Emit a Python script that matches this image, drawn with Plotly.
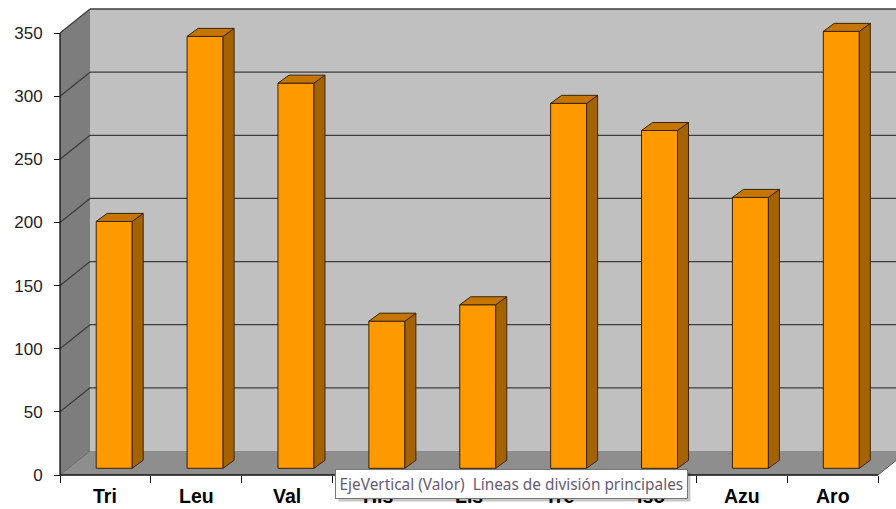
import plotly.graph_objects as go

categories = ["Tri", "Leu", "Val", "His", "Lis", "Tre", "Iso", "Azu", "Aro"]
values = [195.5, 342, 305, 116.5, 129.5, 289, 267.5, 214.5, 346]
y_ticks = [0, 50, 100, 150, 200, 250, 300, 350]
tooltip_text = "EjeVertical (Valor)  Líneas de división principales"

# ---- geometry (pixel -> data units) ----
PX_X = 818 / 9.0          # pixels per category
PX_Y = 442 / 350.0        # pixels per value unit
DEPTH_DX = 30 / PX_X      # oblique depth offset of the back wall
DEPTH_DY = 24 / PX_Y
BAR_SHIFT = 8.75 / PX_X   # bar front face sits a bit into the depth
BAR_BASE = 6.7 / PX_Y
BAR_W = 36 / PX_X
BAR_DX = 11 / PX_X        # bar depth
BAR_DY = 8 / PX_Y
YMAX = 350
NCAT = len(categories)

L, B = 50, 24
W, H = 896, 509
x_min = -(60 - L) / PX_X
x_max = (W - 60) / PX_X
y_min = -10 / PX_Y
y_max = 475 / PX_Y

fig = go.Figure()

shapes = []
# side wall
shapes.append(dict(type="path", xref="x", yref="y", layer="below",
                   path=f"M0,0 L{DEPTH_DX},{DEPTH_DY} L{DEPTH_DX},{YMAX+DEPTH_DY} L0,{YMAX} Z",
                   fillcolor="#7d7d7d", line=dict(width=0)))
# back wall
shapes.append(dict(type="rect", xref="x", yref="y", layer="below",
                   x0=DEPTH_DX, x1=NCAT + DEPTH_DX + 0.5, y0=DEPTH_DY, y1=YMAX + DEPTH_DY,
                   fillcolor="#c0c0c0", line=dict(width=0)))
# floor
shapes.append(dict(type="path", xref="x", yref="y", layer="below",
                   path=f"M0,0 L{NCAT},0 L{NCAT+DEPTH_DX},{DEPTH_DY} L{DEPTH_DX},{DEPTH_DY} Z",
                   fillcolor="#8e8e8e", line=dict(width=0)))
# gridlines on back and side walls
for t in y_ticks[1:]:
    shapes.append(dict(type="line", xref="x", yref="y", layer="below",
                       x0=DEPTH_DX, x1=NCAT + DEPTH_DX + 0.5, y0=t + DEPTH_DY, y1=t + DEPTH_DY,
                       line=dict(color="#3c3c3c", width=1.3)))
    shapes.append(dict(type="line", xref="x", yref="y", layer="below",
                       x0=0, x1=DEPTH_DX, y0=t, y1=t + DEPTH_DY,
                       line=dict(color="#3c3c3c", width=1.3)))
# floor diagonal at left
shapes.append(dict(type="line", xref="x", yref="y", layer="below",
                   x0=0, x1=DEPTH_DX, y0=0, y1=DEPTH_DY,
                   line=dict(color="#6a6a6a", width=1)))
# front axis lines
shapes.append(dict(type="line", xref="x", yref="y", layer="below",
                   x0=0, x1=0, y0=0, y1=YMAX, line=dict(color="#111", width=1.3)))
shapes.append(dict(type="line", xref="x", yref="y", layer="below",
                   x0=0, x1=NCAT, y0=0, y1=0, line=dict(color="#111", width=1.3)))
shapes.append(dict(type="line", xref="x", yref="y", layer="below",
                   x0=NCAT, x1=NCAT + DEPTH_DX, y0=0, y1=DEPTH_DY,
                   line=dict(color="#555", width=1)))

# bars (front faces)
xc = [i + 0.5 + BAR_SHIFT for i in range(NCAT)]
fig.add_trace(go.Bar(x=xc, y=values, base=[BAR_BASE] * NCAT, width=BAR_W,
                     marker=dict(color="#ff9900", line=dict(color="#3a2400", width=1)),
                     hoverinfo="skip", showlegend=False))

# side faces and top faces
sx, sy, tx, ty = [], [], [], []
for x, v in zip(xc, values):
    xl, xr = x - BAR_W / 2, x + BAR_W / 2
    top = BAR_BASE + v
    sx += [xr, xr + BAR_DX, xr + BAR_DX, xr, xr, None]
    sy += [BAR_BASE, BAR_BASE + BAR_DY, top + BAR_DY, top, BAR_BASE, None]
    tx += [xl, xl + BAR_DX, xr + BAR_DX, xr, xl, None]
    ty += [top, top + BAR_DY, top + BAR_DY, top, top, None]
fig.add_trace(go.Scatter(x=sx, y=sy, mode="lines", fill="toself", fillcolor="#a56300",
                         line=dict(color="#3a2400", width=1), hoverinfo="skip", showlegend=False))
fig.add_trace(go.Scatter(x=tx, y=ty, mode="lines", fill="toself", fillcolor="#c47600",
                         line=dict(color="#3a2400", width=1), hoverinfo="skip", showlegend=False))

annotations = []
for i, c in enumerate(categories):
    annotations.append(dict(x=i + 0.5, xref="x", y=0, yref="paper", yanchor="middle",
                            yshift=-11, text=f"<b>{c}</b>", showarrow=False,
                            font=dict(family="Liberation Sans", size=19.5, color="#000"),
                            ))
# tooltip shadow and tooltip
tip_x = (335 - L) / (W - L)
tip_y = (H - B - 469) / (H - B)
annotations.append(dict(x=tip_x, y=tip_y, xref="paper", yref="paper", xanchor="left", yanchor="top",
                        xshift=3, yshift=-3, text=tooltip_text, showarrow=False,
                        font=dict(family="Noto Sans", size=15.4, color="rgba(0,0,0,0)"),
                        bgcolor="rgba(0,0,0,0.22)", borderpad=3.5, borderwidth=1,
                        bordercolor="rgba(0,0,0,0)"))
annotations.append(dict(x=tip_x, y=tip_y, xref="paper", yref="paper", xanchor="left", yanchor="top",
                        text=tooltip_text, showarrow=False,
                        font=dict(family="Noto Sans", size=15.4, color="#665a72"),
                        bgcolor="#ffffff", borderpad=3.5, borderwidth=1, bordercolor="#767676"))

fig.update_layout(
    width=W, height=H,
    margin=dict(l=L, r=0, t=0, b=B, pad=0),
    paper_bgcolor="#ffffff", plot_bgcolor="rgba(0,0,0,0)",
    shapes=shapes, annotations=annotations,
    showlegend=False, hovermode=False,
    xaxis=dict(range=[x_min, x_max], anchor="free", position=10 / (H - B),
               tickvals=list(range(NCAT + 1)), ticktext=[""] * (NCAT + 1),
               ticks="outside", ticklen=7, tickcolor="#111", tickwidth=1.3,
               showgrid=False, zeroline=False, showline=False, fixedrange=True),
    yaxis=dict(range=[y_min, y_max], anchor="free", position=10 / (W - L),
               tickvals=y_ticks, ticks="outside", ticklen=6, tickcolor="#111", tickwidth=1.3,
               ticklabelstandoff=8,
               tickfont=dict(family="Liberation Sans", size=17, color="#222"),
               showgrid=False, zeroline=False, showline=False, fixedrange=True),
)

fig.write_html("out.html")
